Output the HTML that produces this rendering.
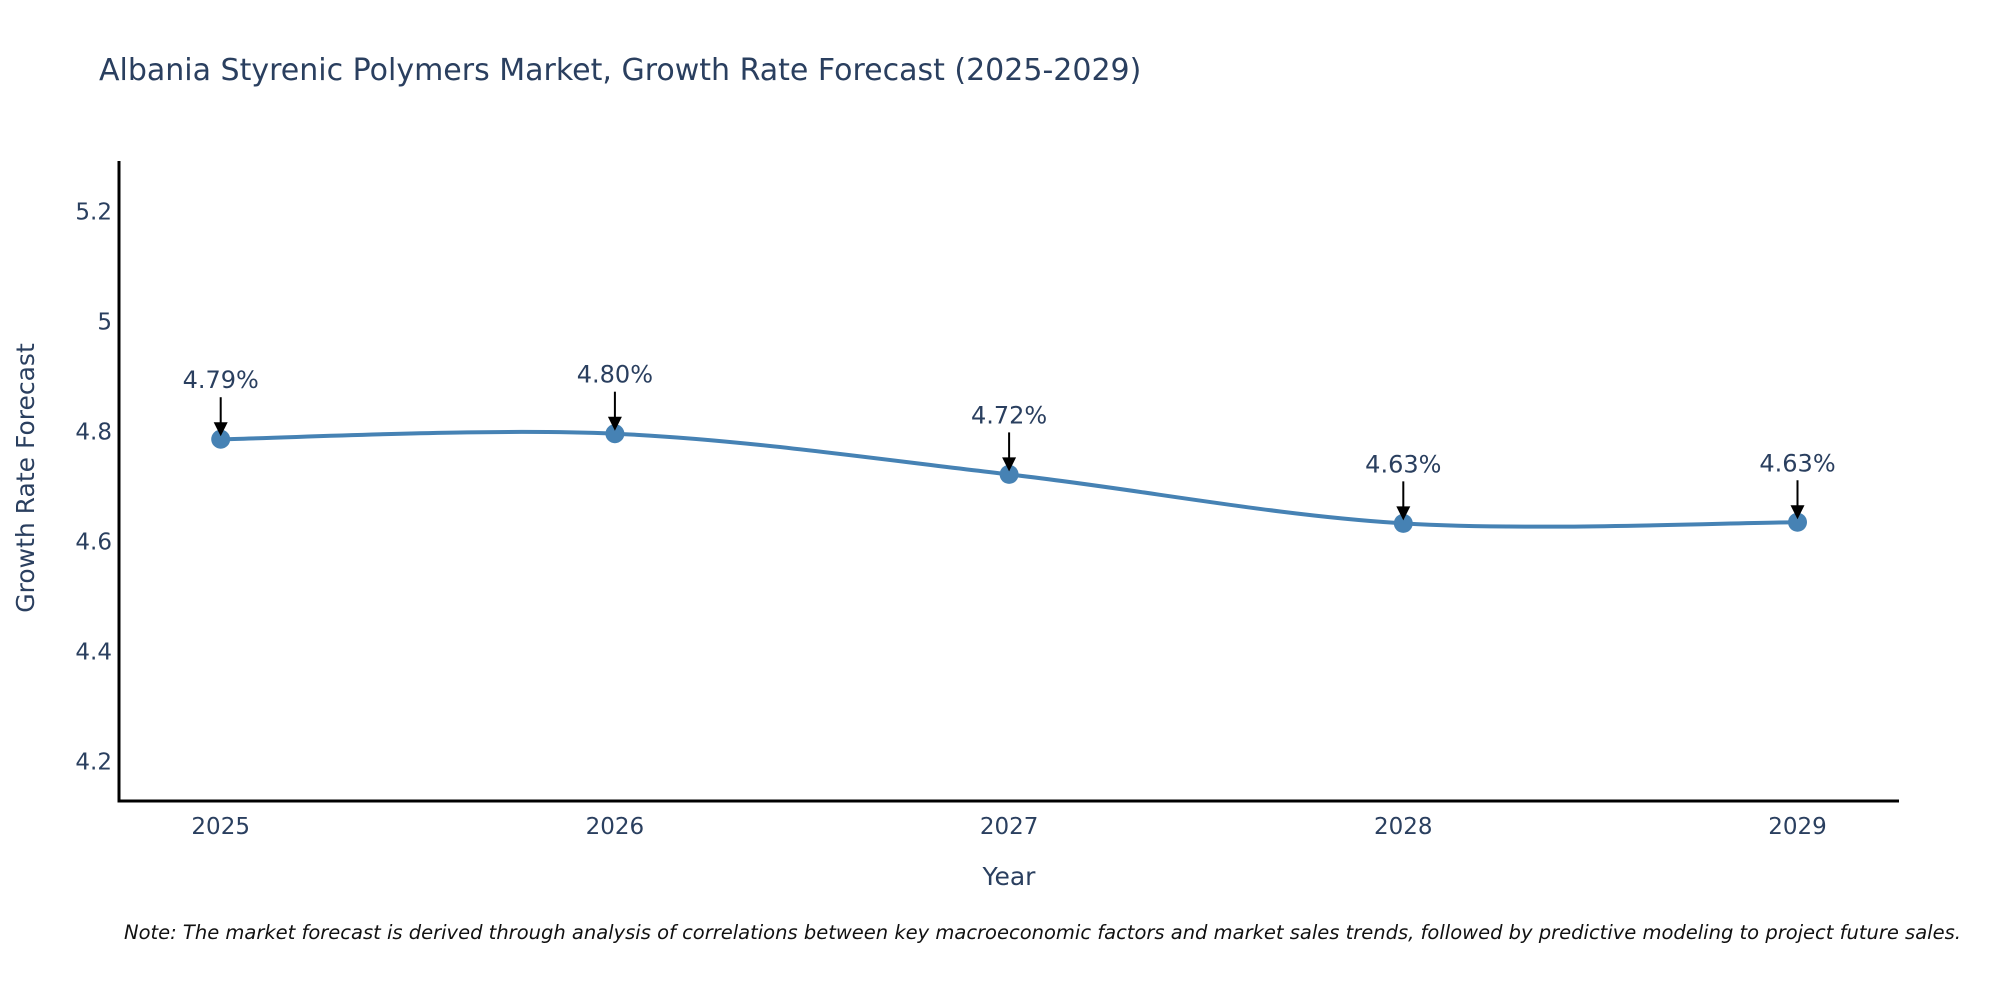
<!DOCTYPE html>
<html><head><meta charset="utf-8"><style>
html,body{margin:0;padding:0;background:#fff;}
svg{display:block;font-family:"DejaVu Sans","Liberation Sans",sans-serif;}
</style></head><body>
<svg id="chart" width="2000" height="1000" viewBox="0 0 2000 1000">
<text x="99" y="80" font-size="30" fill="#2a3f5f">Albania Styrenic Polymers Market, Growth Rate Forecast (2025-2029)</text>
<text transform="translate(34,478) rotate(-90)" text-anchor="middle" font-size="25" fill="#2a3f5f">Growth Rate Forecast</text>
<text x="1009" y="885" text-anchor="middle" font-size="25" fill="#2a3f5f">Year</text>
<text x="124" y="939" font-size="19.5" font-style="italic" fill="#111">Note: The market forecast is derived through analysis of correlations between key macroeconomic factors and market sales trends, followed by predictive modeling to project future sales.</text>
<g id="plot"></g>
</svg>
<script>
const years = ["2025","2026","2027","2028","2029"];
const values = [4.786, 4.796, 4.722, 4.633, 4.635];
const labels = ["4.79%","4.80%","4.72%","4.63%","4.63%"];
const yTicks = [4.2, 4.4, 4.6, 4.8, 5.0, 5.2];
const yTickLabels = ["4.2","4.4","4.6","4.8","5","5.2"];

const NS = "http://www.w3.org/2000/svg";
const g = document.getElementById("plot");
function xScale(i){ return 220.7 + i * 394.2; }
function yScale(v){ return 321.5 - (v - 5.0) * 550; }
function mk(tag, attrs){ const e = document.createElementNS(NS, tag); for (const k in attrs) e.setAttribute(k, attrs[k]); g.appendChild(e); return e; }

let ax = mk("line", {x1:119, y1:161, x2:119, y2:802, stroke:"#000", "stroke-width":3});


ax = mk("line", {x1:117.5, y1:801, x2:1899, y2:801, stroke:"#000", "stroke-width":3});



yTicks.forEach((v, i) => {
  const t = mk("text", {x:112, y:yScale(v) + 8, "text-anchor":"end", "font-size":23, fill:"#2a3f5f"});
  t.textContent = yTickLabels[i];
  
  
});
years.forEach((yr, i) => {
  const t = mk("text", {x:xScale(i), y:834, "text-anchor":"middle", "font-size":23, fill:"#2a3f5f"});
  t.textContent = yr;
  
  
});

const pts = values.map((v, i) => [xScale(i), yScale(v)]);
let d = "M" + pts[0][0] + "," + pts[0][1];
const tension = 1/6;
for (let i = 0; i < pts.length - 1; i++) {
  const p0 = pts[Math.max(0, i-1)], p1 = pts[i], p2 = pts[i+1], p3 = pts[Math.min(pts.length-1, i+2)];
  const c1x = p1[0] + (p2[0]-p0[0])*tension, c1y = p1[1] + (p2[1]-p0[1])*tension;
  const c2x = p2[0] - (p3[0]-p1[0])*tension, c2y = p2[1] - (p3[1]-p1[1])*tension;
  d += " C" + c1x + "," + c1y + " " + c2x + "," + c2y + " " + p2[0] + "," + p2[1];
}
const line = mk("path", {d:d, fill:"none", stroke:"#4682b4", "stroke-width":4});



pts.forEach((p, i) => {
  const c = mk("circle", {cx:p[0], cy:p[1], r:9.5, fill:"#4682b4"});
  
  
  const a = mk("line", {x1:p[0], y1:p[1]-42, x2:p[0], y2:p[1]-14, stroke:"#000", "stroke-width":2});
  
  
  const h = mk("polygon", {points:(p[0]-7)+","+(p[1]-17)+" "+(p[0]+7)+","+(p[1]-17)+" "+p[0]+","+(p[1]-3), fill:"#000"});
  
  
  const t = mk("text", {x:p[0], y:p[1]-51, "text-anchor":"middle", "font-size":24, fill:"#2a3f5f"});
  t.textContent = labels[i];
  
  
});
</script>
</body></html>
